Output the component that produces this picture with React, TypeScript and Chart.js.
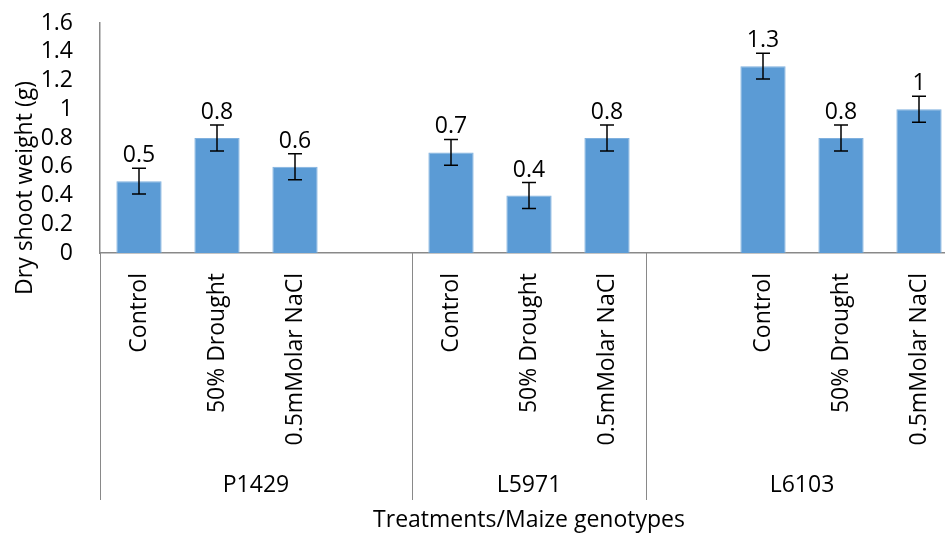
import React, { useEffect, useRef } from 'react';
import { Chart, registerables } from 'chart.js';

Chart.register(...registerables);

const treatments = ['Control', '50% Drought', '0.5mMolar NaCl', '', 'Control', '50% Drought', '0.5mMolar NaCl', '', 'Control', '50% Drought', '0.5mMolar NaCl'];
const dryShootWeight: (number | null)[] = [0.5, 0.8, 0.6, null, 0.7, 0.4, 0.8, null, 1.3, 0.8, 1.0];
const errorValues: (number | null)[] = [0.09, 0.09, 0.09, null, 0.09, 0.09, 0.09, null, 0.09, 0.09, 0.09];
const valueLabels = ['0.5', '0.8', '0.6', '', '0.7', '0.4', '0.8', '', '1.3', '0.8', '1'];
const genotypes = ['P1429', 'L5971', 'L6103'];
const groupStart = [0, 4, 7];
const groupEnd = [3, 6, 10];
const yTitle = 'Dry shoot weight (g)';
const xTitle = 'Treatments/Maize genotypes';

const FONT = '"Open Sans", Lato, sans-serif';
const FS = 23;
const AXIS_COLOR = '#898989';

const extrasPlugin = {
  id: 'extras',
  afterDatasetsDraw(chart: any) {
    const ctx = chart.ctx;
    const ys = chart.scales.y;
    const meta = chart.getDatasetMeta(0);
    ctx.save();
    ctx.strokeStyle = '#000';
    ctx.lineWidth = 1.5;
    meta.data.forEach((bar: any, i: number) => {
      const v = dryShootWeight[i];
      const e = errorValues[i];
      if (v == null || e == null) return;
      const x = bar.x;
      const yTop = ys.getPixelForValue(v + e);
      const yBot = ys.getPixelForValue(v - e);
      ctx.beginPath();
      ctx.moveTo(x, yTop);
      ctx.lineTo(x, yBot);
      ctx.moveTo(x - 7, yTop);
      ctx.lineTo(x + 7, yTop);
      ctx.moveTo(x - 7, yBot);
      ctx.lineTo(x + 7, yBot);
      ctx.stroke();
      ctx.fillStyle = '#000';
      ctx.font = `${FS}px ${FONT}`;
      ctx.textAlign = 'center';
      ctx.textBaseline = 'bottom';
      ctx.fillText(valueLabels[i], x, yTop - 1);
    });
    ctx.restore();
  },
  afterDraw(chart: any) {
    const ctx = chart.ctx;
    const xs = chart.scales.x;
    const area = chart.chartArea;
    const slot = xs.getPixelForValue(1) - xs.getPixelForValue(0);
    ctx.save();
    ctx.strokeStyle = AXIS_COLOR;
    ctx.lineWidth = 1;
    const bounds: number[] = [];
    genotypes.forEach((g, k) => {
      const left = xs.getPixelForValue(groupStart[k]) - slot / 2;
      const right = xs.getPixelForValue(groupEnd[k]) + slot / 2;
      if (k === 0) bounds.push(left);
      bounds.push(right);
    });
    bounds.forEach((b) => {
      const bx = Math.round(b) + 0.5;
      ctx.beginPath();
      ctx.moveTo(bx, area.bottom);
      ctx.lineTo(bx, 500);
      ctx.stroke();
    });
    ctx.fillStyle = '#000';
    ctx.font = `${FS}px ${FONT}`;
    ctx.textAlign = 'center';
    ctx.textBaseline = 'middle';
    genotypes.forEach((g, k) => {
      const left = xs.getPixelForValue(groupStart[k]) - slot / 2;
      const right = xs.getPixelForValue(groupEnd[k]) + slot / 2;
      ctx.fillText(g, (left + right) / 2, 485);
    });
    ctx.fillText(xTitle, (area.left + area.right) / 2, 520);
    ctx.translate(25, 188);
    ctx.rotate(-Math.PI / 2);
    ctx.fillText(yTitle, 0, 0);
    ctx.restore();
  },
};

export default function App() {
  const ref = useRef<HTMLCanvasElement | null>(null);
  useEffect(() => {
    if (!ref.current) return;
    const chart = new Chart(ref.current, {
      type: 'bar',
      data: {
        labels: treatments,
        datasets: [
          {
            data: dryShootWeight as any,
            backgroundColor: '#5B9BD5',
            borderColor: '#7FB0DE',
            borderWidth: 1,
            barPercentage: 0.58,
            categoryPercentage: 1,
          },
        ],
      },
      options: {
        animation: false,
        responsive: true,
        maintainAspectRatio: false,
        layout: { padding: { top: 23, right: 2, left: 0, bottom: 0 } },
        plugins: { legend: { display: false }, tooltip: { enabled: false } },
        scales: {
          x: {
            grid: { display: false, drawTicks: false },
            border: { display: true, color: AXIS_COLOR, width: 1.5 },
            ticks: {
              autoSkip: false,
              minRotation: 90,
              maxRotation: 90,
              padding: 20,
              color: '#000',
              font: { family: FONT, size: FS },
            },
            afterFit: (s: any) => {
              s.height = 282;
              s.paddingLeft = 0;
              s.paddingRight = 0;
            },
          },
          y: {
            min: 0,
            max: 1.6,
            grid: { display: false, drawTicks: false },
            border: { display: true, color: AXIS_COLOR, width: 1.5 },
            ticks: {
              autoSkip: false,
              stepSize: 0.2,
              padding: 27,
              color: '#000',
              font: { family: FONT, size: FS },
              callback: (v: any) => String(Math.round(Number(v) * 10) / 10),
            },
            afterFit: (s: any) => {
              s.width = 100;
              s.paddingTop = 0;
              s.paddingBottom = 0;
            },
          },
        },
      },
      plugins: [extrasPlugin],
    });
    return () => chart.destroy();
  }, []);
  return (
    <div style={{ position: 'fixed', left: 0, top: 0, width: 945, height: 535, overflow: 'hidden', background: '#fff' }}>
      <div style={{ position: 'relative', width: 960, height: 535 }}>
        <canvas ref={ref} />
      </div>
    </div>
  );
}
